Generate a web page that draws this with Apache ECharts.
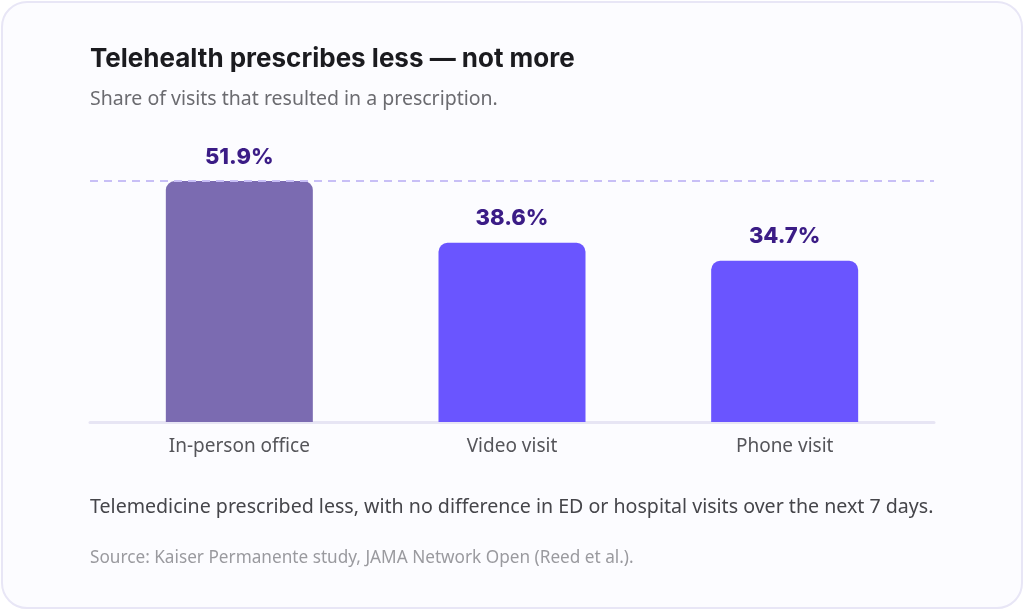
<!DOCTYPE html>
<html>
<head>
<meta charset="utf-8">
<script src="https://cdn.jsdelivr.net/npm/echarts@6/dist/echarts.min.js"></script>
<style>
html,body{margin:0;padding:0;background:#ffffff;}
#card{position:absolute;left:1px;top:1px;width:1018px;height:604px;border:2px solid #e8e6f6;border-radius:26px;background:#fcfcff;box-sizing:content-box;}
#chart{position:absolute;left:0;top:0;width:1024px;height:610px;}
</style>
</head>
<body>
<div id="card"></div>
<div id="chart"></div>
<script>
var categories = ['In-person office', 'Video visit', 'Phone visit'];
var shares = [51.9, 38.6, 34.7];
var barColors = ['#7b6bb1', '#6a55ff', '#6a55ff'];
var refValue = 51.9;

var chart = echarts.init(document.getElementById('chart'), null, {renderer: 'canvas'});

var option = {
    backgroundColor: 'transparent',
    animation: false,
    title: [
        {
            text: 'Telehealth prescribes less \u2014 not more',
            left: 90, top: 46, padding: 0,
            textStyle: {fontFamily: 'Inter', fontWeight: 'bold', fontSize: 26, color: '#1b1b1f'}
        },
        {
            text: 'Share of visits that resulted in a prescription.',
            left: 90, top: 89, padding: 0,
            textStyle: {fontFamily: 'Noto Sans', fontWeight: 'normal', fontSize: 19.5, color: '#6b6b70'}
        },
        {
            text: 'Telemedicine prescribed less, with no difference in ED or hospital visits over the next 7 days.',
            left: 90, top: 497, padding: 0,
            textStyle: {fontFamily: 'Noto Sans', fontWeight: 'normal', fontSize: 19.6, color: '#45454a'}
        },
        {
            text: 'Source: Kaiser Permanente study, JAMA Network Open (Reed et al.).',
            left: 90, top: 550, padding: 0,
            textStyle: {fontFamily: 'Noto Sans', fontWeight: 'normal', fontSize: 17.2, color: '#9a9a9f'}
        }
    ],
    grid: [
        {left: 103, right: 103, top: 181, bottom: 188},
        {left: 90, right: 90, top: 181, bottom: 188}
    ],
    xAxis: [
        {
            type: 'category', gridIndex: 0, data: categories,
            axisLine: {show: false}, axisTick: {show: false},
            axisLabel: {fontFamily: 'Noto Sans', fontSize: 19, color: '#55555a', margin: 15}
        },
        {
            type: 'value', gridIndex: 1, min: 0, max: 1,
            axisLine: {show: true, onZero: false, lineStyle: {color: '#e7e5f4', width: 3}},
            axisTick: {show: false}, axisLabel: {show: false}, splitLine: {show: false}
        }
    ],
    yAxis: [
        {type: 'value', gridIndex: 0, min: 0, max: refValue, show: false, splitLine: {show: false}},
        {type: 'value', gridIndex: 1, min: 0, max: refValue, show: false, splitLine: {show: false}}
    ],
    series: [
        {
            type: 'line', xAxisIndex: 1, yAxisIndex: 1, data: [], z: 1,
            markLine: {
                silent: true, symbol: 'none', label: {show: false},
                lineStyle: {type: [8, 6], color: '#c8bff6', width: 2},
                data: [{yAxis: refValue}]
            }
        },
        {
            type: 'bar', xAxisIndex: 0, yAxisIndex: 0, z: 3,
            barWidth: 147,
            data: shares.map(function (v, i) {
                return {value: v, itemStyle: {color: barColors[i]}};
            }),
            itemStyle: {borderRadius: [9, 9, 0, 0]},
            label: {
                show: true, position: 'top', distance: 13,
                formatter: function (p) { return p.value.toFixed(1) + '%'; },
                fontFamily: 'Inter', fontWeight: 800, fontSize: 22, color: '#3b1c86'
            }
        }
    ]
};

chart.setOption(option);
</script>
</body>
</html>
